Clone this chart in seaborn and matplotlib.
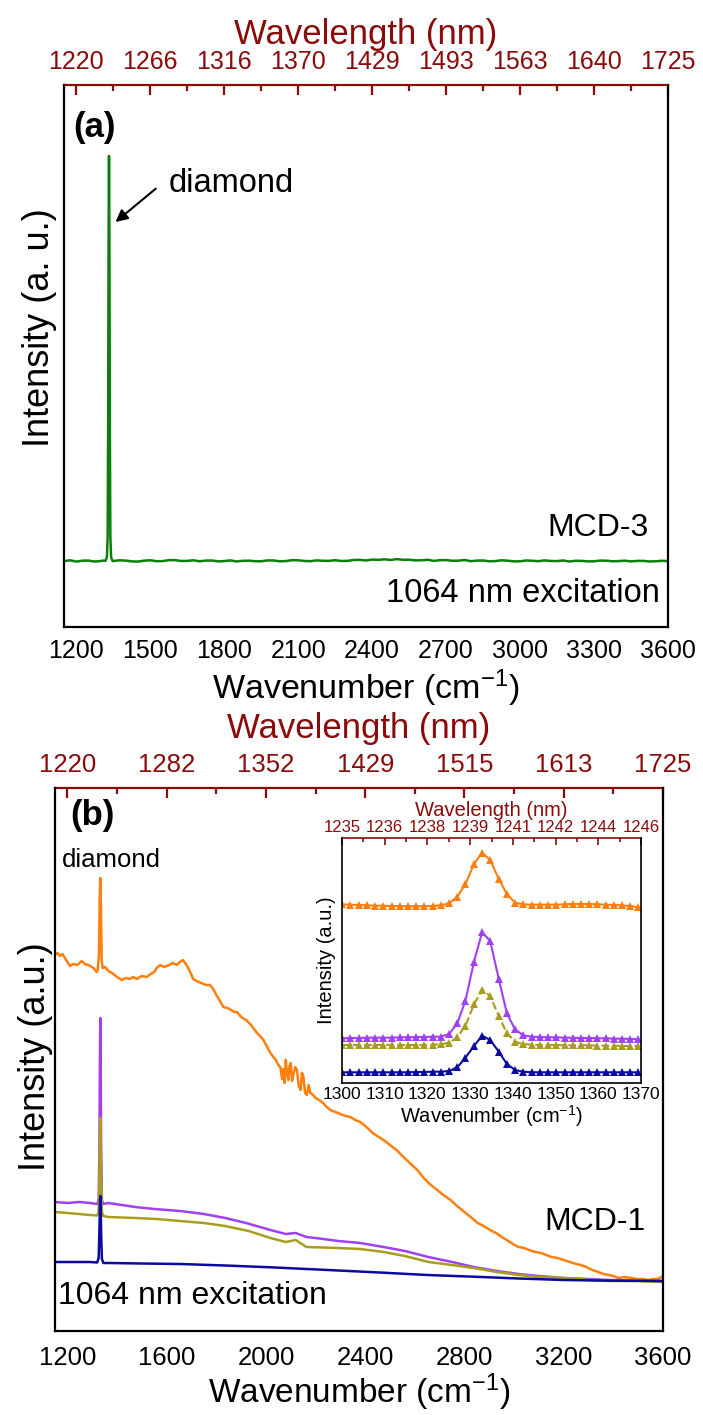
import numpy as np
import pandas as pd
import matplotlib
matplotlib.use("Agg")
import matplotlib.pyplot as plt
import seaborn as sns

sns.set_style("white")
FONT = ['Liberation Sans', 'Arial', 'DejaVu Sans']
plt.rcParams['font.family'] = FONT
plt.rcParams['mathtext.fontset'] = 'custom'
plt.rcParams['mathtext.rm'] = 'Liberation Sans'
plt.rcParams['mathtext.it'] = 'Liberation Sans'
plt.rcParams['text.color'] = 'black'
plt.rcParams['axes.labelcolor'] = 'black'
plt.rcParams['xtick.color'] = 'black'

DARKRED = '#8B0A0A'
GREEN = '#0A800A'
ORANGE = '#FF7F0E'
PURPLE = '#A040F5'
OLIVE = '#A89E1E'
NAVY = '#0A0AA0'

# ---------------- panel (a): MCD-3 ----------------
a_wn = [1150, 1175, 1200, 1225, 1250, 1270, 1290, 1310, 1318, 1324, 1327, 1329, 1331, 1332.5, 1334,
        1336, 1338, 1341, 1347, 1375, 1400, 1425, 1450, 1475, 1500, 1525, 1550, 1575, 1600,
        1625, 1650, 1675, 1700, 1725, 1750, 1775, 1800, 1825, 1850, 1875, 1900, 1925, 1950,
        1975, 2000, 2025, 2050, 2075, 2100, 2125, 2150, 2175, 2200, 2225, 2250, 2275, 2300,
        2325, 2350, 2375, 2400, 2425, 2450, 2475, 2500, 2525, 2550, 2575, 2600, 2625, 2650,
        2675, 2700, 2725, 2750, 2775, 2800, 2825, 2850, 2875, 2900, 2925, 2950, 2975, 3000,
        3025, 3050, 3075, 3100, 3125, 3150, 3175, 3200, 3225, 3250, 3275, 3300, 3325, 3350,
        3375, 3400, 3425, 3450, 3475, 3500, 3525, 3550, 3575, 3600]
a_int = [66, 66.8, 65.5, 66.4, 66.5, 65.6, 65.8, 66.5, 66.2, 70, 90, 200, 400, 471.7, 400,
         200, 90, 70, 66, 66.8, 66.5, 65.7, 65.5, 66.4, 66.8, 65.9, 66, 66.9, 67,
         66.1, 66.2, 66.8, 65.8, 66.5, 66.6, 65.7, 66, 66.7, 65.6, 66.3, 66.4, 65.9, 65.8,
         66.7, 66.6, 65.8, 66, 66.9, 66.8, 66.1, 65.9, 66.7, 66.3, 66.2, 66.9, 66.1, 66.2,
         67.1, 67.2, 66.6, 67.5, 67.2, 67.8, 67.1, 68, 67.3, 67.4, 66.7, 66.8, 67.3, 66.2,
         66.9, 67, 66.3, 66.4, 67.1, 65.9, 66.5, 66.6, 65.8, 66, 66.8, 66.4, 65.7, 65.8,
         66.6, 66.3, 65.9, 66.7, 66.1, 66, 66.6, 65.6, 66.3, 66.2, 65.7, 65.8, 66.5, 66.4,
         65.8, 66, 66.4, 65.7, 66.2, 66.2, 65.6, 65.8, 66.3, 66]

a_bottom_ticks = [1200, 1500, 1800, 2100, 2400, 2700, 3000, 3300, 3600]
a_top_labels = ['1220', '1266', '1316', '1370', '1429', '1493', '1563', '1640', '1725']

# ---------------- panel (b): MCD-1 ----------------
orange_wn = [1150, 1160, 1170, 1180, 1195, 1210, 1225, 1240, 1258, 1270, 1285, 1305, 1318, 1322,
             1327, 1330, 1332.5, 1335, 1338, 1342, 1352, 1365, 1380, 1400, 1419, 1435, 1450,
             1465, 1480, 1500, 1520, 1535, 1550, 1560, 1574, 1590, 1610, 1625, 1640, 1654,
             1665, 1680, 1693, 1707, 1720, 1740, 1758, 1775, 1790, 1800, 1815, 1828, 1845,
             1860, 1872, 1883, 1900, 1920, 1940, 1964, 1980, 1990, 2005, 2018, 2030, 2040,
             2050, 2058, 2065, 2070, 2075, 2080, 2085, 2090, 2095, 2100, 2105, 2110, 2118,
             2125, 2132, 2140, 2145, 2150, 2158, 2165, 2172, 2179, 2190, 2200, 2215, 2230,
             2245, 2260, 2280, 2300, 2320, 2340, 2360, 2380, 2405, 2430, 2455, 2480, 2505,
             2526, 2550, 2580, 2610, 2636, 2660, 2690, 2715, 2744, 2770, 2800, 2825, 2853,
             2870, 2890, 2910, 2928, 2950, 2970, 2995, 3018, 3040, 3060, 3085, 3109, 3130,
             3150, 3175, 3200, 3225, 3250, 3270, 3291, 3315, 3340, 3360, 3382, 3400, 3420,
             3445, 3473, 3495, 3520, 3540, 3560, 3580, 3600]
orange_int = [376, 378, 375, 377, 371, 365, 367, 366, 370, 367, 366, 363, 359, 361,
              376, 431, 453, 426, 371, 363, 364, 360, 358, 354, 351, 353, 352,
              354, 352, 355, 354, 357, 359, 363, 366, 364, 366, 368, 366, 369,
              371, 366, 360, 352, 350, 348, 346, 346, 341, 336, 330, 324, 323,
              321, 319, 319, 314, 311, 306, 298, 294, 291, 284, 278, 274, 271,
              266, 264, 252, 262, 248, 271, 258, 251, 265, 268, 250, 256, 264,
              261, 245, 241, 258, 256, 238, 236, 246, 238, 236, 233, 231, 228,
              224, 221, 219, 217, 215, 214, 211, 209, 204, 198, 194, 190, 185,
              181, 175, 168, 161, 153, 147, 141, 136, 131, 125, 119, 114, 108,
              106, 103, 100, 98, 94, 91, 87, 84, 83, 81, 79, 78, 76,
              74, 73, 71, 69, 67, 66, 64, 61, 59, 57, 56, 55, 53,
              54, 53, 52, 52, 51, 52, 52, 55]

purple_wn = [1150, 1200, 1250, 1291, 1320, 1326, 1329, 1331, 1332.5, 1334, 1336, 1339, 1345,
             1364, 1420, 1473, 1550, 1654, 1750, 1836, 1920, 2018, 2080, 2120, 2163, 2200,
             2292, 2380, 2474, 2560, 2655, 2750, 2837, 2930, 3018, 3100, 3200, 3300, 3382,
             3500, 3600]
purple_int = [129, 128, 129, 128, 127, 131, 181, 271, 313, 271, 181, 131, 127,
              128, 126, 124, 122, 120, 117, 113, 108, 101, 97, 98, 94, 93,
              90, 88, 84, 80, 74, 69, 64, 60, 57, 55, 53, 52, 51,
              50.5, 50]

olive_wn = [1150, 1200, 1291, 1320, 1326, 1329, 1331, 1332.5, 1334, 1336, 1339, 1345,
            1364, 1473, 1560, 1654, 1750, 1836, 1930, 2018, 2080, 2120, 2163, 2292, 2380,
            2474, 2560, 2655, 2750, 2837, 2930, 3018, 3100, 3200, 3300, 3382, 3500, 3600]
olive_int = [119, 118, 116, 115.5, 119, 151, 196, 213, 196, 151, 119, 115,
             114, 113, 112, 110, 108, 105, 100, 93, 89, 91, 84, 83, 82,
             79, 75, 69, 66, 63, 59, 56, 54, 53, 51, 50, 50, 49]

navy_wn = [1150, 1200, 1291, 1320, 1326, 1329, 1331, 1332.5, 1334, 1336, 1339, 1345,
           1364, 1500, 1654, 1836, 2018, 2250, 2474, 2650, 2837, 3018, 3200, 3400, 3600]
navy_int = [69, 69, 69, 68.5, 73, 101, 126, 135, 126, 96, 72, 68,
            68, 67.5, 67, 65.5, 63.7, 61, 58.3, 56, 54.3, 52.5, 51, 50.3, 50]

b_bottom_ticks = [1200, 1600, 2000, 2400, 2800, 3200, 3600]
b_top_labels = ['1220', '1282', '1352', '1429', '1515', '1613', '1725']

# ---------------- inset ----------------
ins_wn = [1300.0, 1301.9, 1303.9, 1305.8, 1307.7, 1309.6, 1311.6, 1313.5, 1315.4, 1317.4,
          1319.3, 1321.2, 1323.1, 1325.1, 1327.0, 1328.9, 1330.9, 1332.8, 1334.7, 1336.7,
          1338.6, 1340.5, 1342.4, 1344.4, 1346.3, 1348.2, 1350.2, 1352.1, 1354.0, 1355.9,
          1357.9, 1359.8, 1361.7, 1363.7, 1365.6, 1367.5, 1369.4]
ins_orange = [178.7, 178.3, 178.0, 177.7, 177.3, 177.3, 177.0, 177.0, 176.7, 176.7,
              176.7, 177.0, 177.7, 179.7, 186.3, 199.0, 219.0, 230.3, 223.0, 204.0,
              189.0, 180.3, 178.7, 178.3, 178.3, 178.3, 178.3, 178.7, 179.0, 179.0,
              179.0, 178.7, 178.3, 178.0, 177.7, 177.0, 175.7]
ins_purple = [44.7, 45.0, 45.0, 45.3, 45.3, 45.3, 45.3, 45.7, 45.7, 46.0,
              46.0, 46.3, 46.3, 49.0, 59.7, 82.3, 121.3, 150.7, 142.0, 104.0,
              69.7, 53.7, 47.7, 46.3, 46.0, 45.7, 45.7, 45.3, 45.3, 45.0,
              45.0, 44.7, 44.7, 44.3, 44.3, 44.0, 43.7]
ins_olive = [38.0, 38.0, 38.0, 38.0, 38.0, 38.0, 38.0, 38.0, 38.0, 38.0,
             38.0, 38.3, 38.7, 40.3, 45.7, 57.3, 78.7, 93.0, 87.0, 67.0,
             49.7, 41.3, 39.0, 38.3, 38.0, 38.0, 38.0, 37.7, 37.7, 37.7,
             37.7, 37.3, 37.3, 37.3, 37.0, 37.0, 37.0]
ins_navy = [10.7, 10.7, 10.7, 10.7, 10.7, 10.7, 10.7, 10.7, 10.7, 11.0,
            11.0, 11.3, 11.3, 12.0, 15.7, 25.3, 37.0, 47.3, 43.0, 31.3,
            19.0, 13.0, 11.3, 10.7, 10.7, 10.7, 10.7, 10.7, 10.7, 10.7,
            10.7, 10.7, 10.7, 10.7, 10.7, 10.7, 10.7]
ins_ticks = [1300, 1310, 1320, 1330, 1340, 1350, 1360, 1370]
ins_top_labels = ['1235', '1236', '1238', '1239', '1241', '1242', '1244', '1246']

# ================= figure =================
fig = plt.figure(figsize=(7.03, 14.15), dpi=100)
W, H = 703.0, 1415.0


def frac(l, t, r, b):
    return [l / W, 1 - b / H, (r - l) / W, (b - t) / H]


def style_axes(ax, major, minor_step, top_labels, top_fs, bot_fs, lw=1.6, maj_len=7,
               min_len=4, bot_pad=9, top_pad=8):
    ax.set_xticks(major)
    ax.xaxis.set_minor_locator(matplotlib.ticker.MultipleLocator(minor_step))
    ax.set_yticks([])
    for s in ['left', 'right', 'bottom']:
        ax.spines[s].set_visible(True)
        ax.spines[s].set_color('black')
        ax.spines[s].set_linewidth(lw)
    ax.spines['top'].set_visible(False)
    ax.tick_params(axis='x', which='major', direction='in', length=maj_len, width=lw,
                   labelsize=bot_fs, pad=bot_pad, colors='black')
    ax.tick_params(axis='x', which='minor', direction='in', length=min_len, width=lw)
    sec = ax.secondary_xaxis('top')
    sec.set_xticks(major, labels=top_labels)
    sec.xaxis.set_minor_locator(matplotlib.ticker.MultipleLocator(minor_step))
    sec.tick_params(axis='x', which='major', direction='in', length=maj_len, width=lw,
                    labelsize=top_fs, colors=DARKRED, pad=top_pad)
    sec.tick_params(axis='x', which='minor', direction='in', length=min_len, width=lw,
                    colors=DARKRED)
    sec.spines['top'].set_color(DARKRED)
    sec.spines['top'].set_linewidth(lw)
    return sec


XLABEL = 'Wavenumber (cm$^{\\mathregular{-1}}$)'

# ---- panel (a)
axa = fig.add_axes(frac(64, 85, 668, 627))
dfa = pd.DataFrame({'wn': a_wn, 'I': a_int})
sns.lineplot(data=dfa, x='wn', y='I', ax=axa, color=GREEN, lw=1.8, estimator=None, sort=False)
axa.set_xlim(1150, 3600)
axa.set_ylim(0, 542.7)
seca = style_axes(axa, a_bottom_ticks, 150, a_top_labels, 18, 18)
axa.set_xlabel(XLABEL, fontsize=24.5, labelpad=3)
axa.set_ylabel('Intensity (a. u.)', fontsize=26)
axa.yaxis.set_label_coords(-0.012, 0.552)
seca.set_xlabel('Wavelength (nm)', fontsize=25, color=DARKRED, labelpad=4)
axa.text(0.015, 0.9225, '(a)', transform=axa.transAxes, fontsize=25, fontweight='bold',
         ha='left', va='center')
axa.annotate('', xy=(1350, 403.7), xytext=(1531, 440.7),
             arrowprops=dict(arrowstyle='-|>', color='black', lw=1.5, mutation_scale=18))
axa.text(1573, 443.7, 'diamond', fontsize=23.5, ha='left', va='center')
axa.text(0.9685, 0.1827, 'MCD-3', transform=axa.transAxes, fontsize=23, ha='right', va='center')
axa.text(0.9868, 0.0627, '1064 nm excitation', transform=axa.transAxes, fontsize=23.5,
         ha='right', va='center')

# ---- panel (b)
axb = fig.add_axes(frac(55, 788, 663, 1331))
for wn, inten, col in [(orange_wn, orange_int, ORANGE), (purple_wn, purple_int, PURPLE),
                       (olive_wn, olive_int, OLIVE), (navy_wn, navy_int, NAVY)]:
    sns.lineplot(x=wn, y=inten, ax=axb, color=col, lw=1.8, estimator=None, sort=False)
axb.set_xlim(1150, 3600)
axb.set_ylim(0, 543)
secb = style_axes(axb, b_bottom_ticks, 200, b_top_labels, 18.5, 18.5, bot_pad=11)
axb.set_xlabel(XLABEL, fontsize=24, labelpad=1)
axb.set_ylabel('Intensity (a.u.)', fontsize=26)
axb.yaxis.set_label_coords(-0.004, 0.505)
secb.set_xlabel('Wavelength (nm)', fontsize=25, color=DARKRED, labelpad=11)
axb.text(0.0247, 0.950, '(b)', transform=axb.transAxes, fontsize=25, fontweight='bold',
         ha='left', va='center')
axb.text(0.0115, 0.8674, 'diamond', transform=axb.transAxes, fontsize=18.5, ha='left', va='center')
axb.text(0.972, 0.2007, 'MCD-1', transform=axb.transAxes, fontsize=23, ha='right', va='center')
axb.text(0.005, 0.0645, '1064 nm excitation', transform=axb.transAxes, fontsize=23,
         ha='left', va='center')

# ---- inset
axi = fig.add_axes(frac(342, 838, 641, 1083))
for vals, col, ls in [(ins_orange, ORANGE, '-'), (ins_purple, PURPLE, '-'),
                      (ins_olive, OLIVE, '--'), (ins_navy, NAVY, '-')]:
    sns.lineplot(x=ins_wn, y=vals, ax=axi, color=col, lw=1.5, linestyle=ls, marker='^',
                 markersize=6, markeredgewidth=0, estimator=None, sort=False)
axi.set_xlim(1300, 1370)
axi.set_ylim(0, 245)
seci = style_axes(axi, ins_ticks, 5, ins_top_labels, 12, 12.5, lw=1.2, maj_len=5, min_len=3,
                  bot_pad=3, top_pad=2)
axi.set_xlabel(XLABEL, fontsize=14.5, labelpad=1)
axi.set_ylabel('Intensity (a.u.)', fontsize=14.5, labelpad=4)
seci.set_xlabel('Wavelength (nm)', fontsize=14.5, color=DARKRED, labelpad=3)
axi.patch.set_alpha(0)

fig.savefig('out.png', dpi=100)
